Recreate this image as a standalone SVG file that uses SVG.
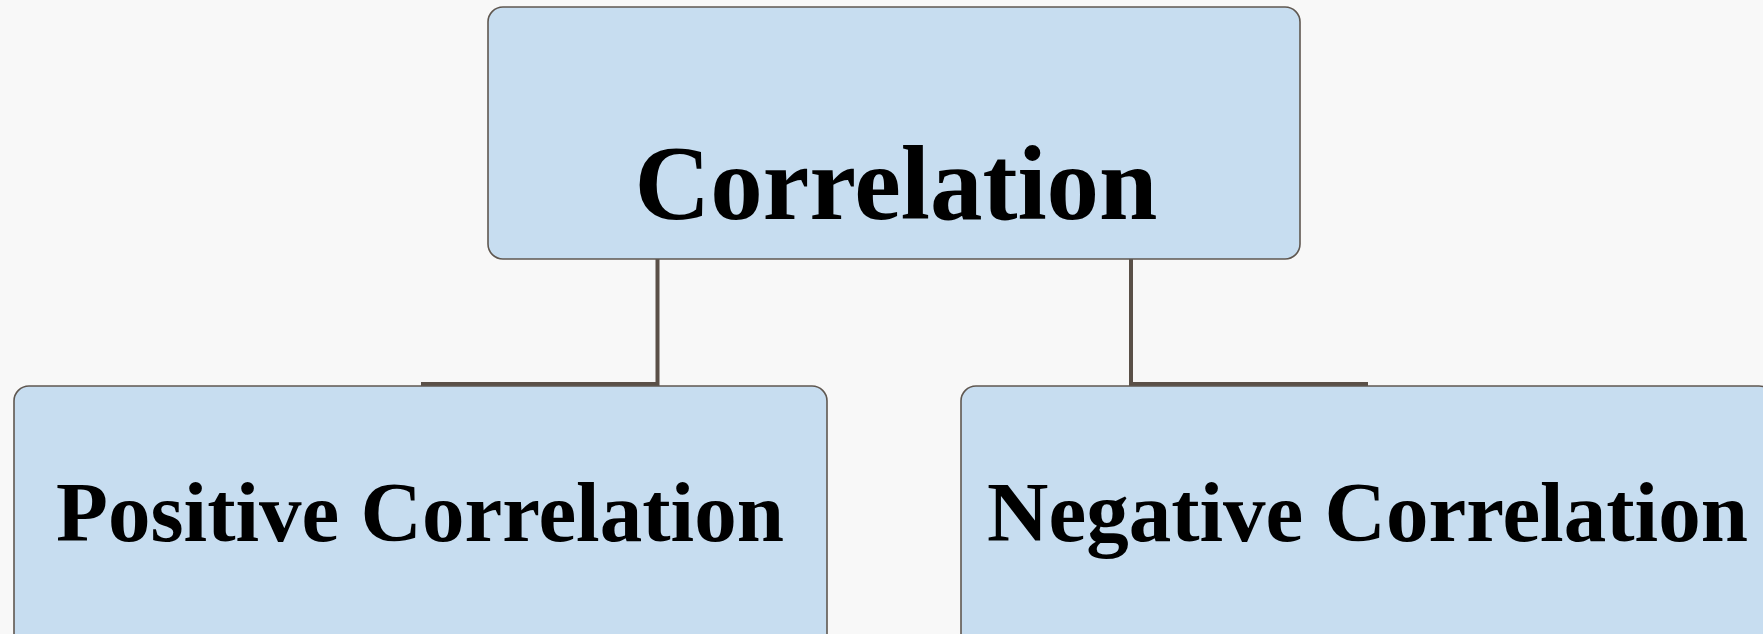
<svg xmlns="http://www.w3.org/2000/svg" width="1763" height="634" viewBox="0 0 1763 634">
<style>
.node{fill:#c7ddf0;stroke:#5f5750;stroke-width:1.6}
.lbl{font-family:"Liberation Serif","Times New Roman",serif;font-weight:bold;fill:#000;text-anchor:middle}
.conn{fill:none;stroke:#5a5048;stroke-width:4}
</style>
<rect x="0" y="0" width="1763" height="634" fill="#f8f8f8"/>
<g id="connectors">
<path class="conn" d="M657.5,259 V384 H421"/>
<path class="conn" d="M1131,259 V384 H1368"/>
</g>
<g id="node-correlation">
<rect class="node" x="488" y="7" width="812" height="252" rx="15"/>
<text class="lbl" x="896" y="219" font-size="105">Correlation</text>
</g>
<g id="node-positive">
<rect class="node" x="14" y="386" width="813" height="270" rx="15"/>
<text class="lbl" x="420" y="541" font-size="85">Positive Correlation</text>
</g>
<g id="node-negative">
<rect class="node" x="961" y="386" width="813" height="270" rx="15"/>
<text class="lbl" x="1367.5" y="541" font-size="85">Negative Correlation</text>
</g>
</svg>
